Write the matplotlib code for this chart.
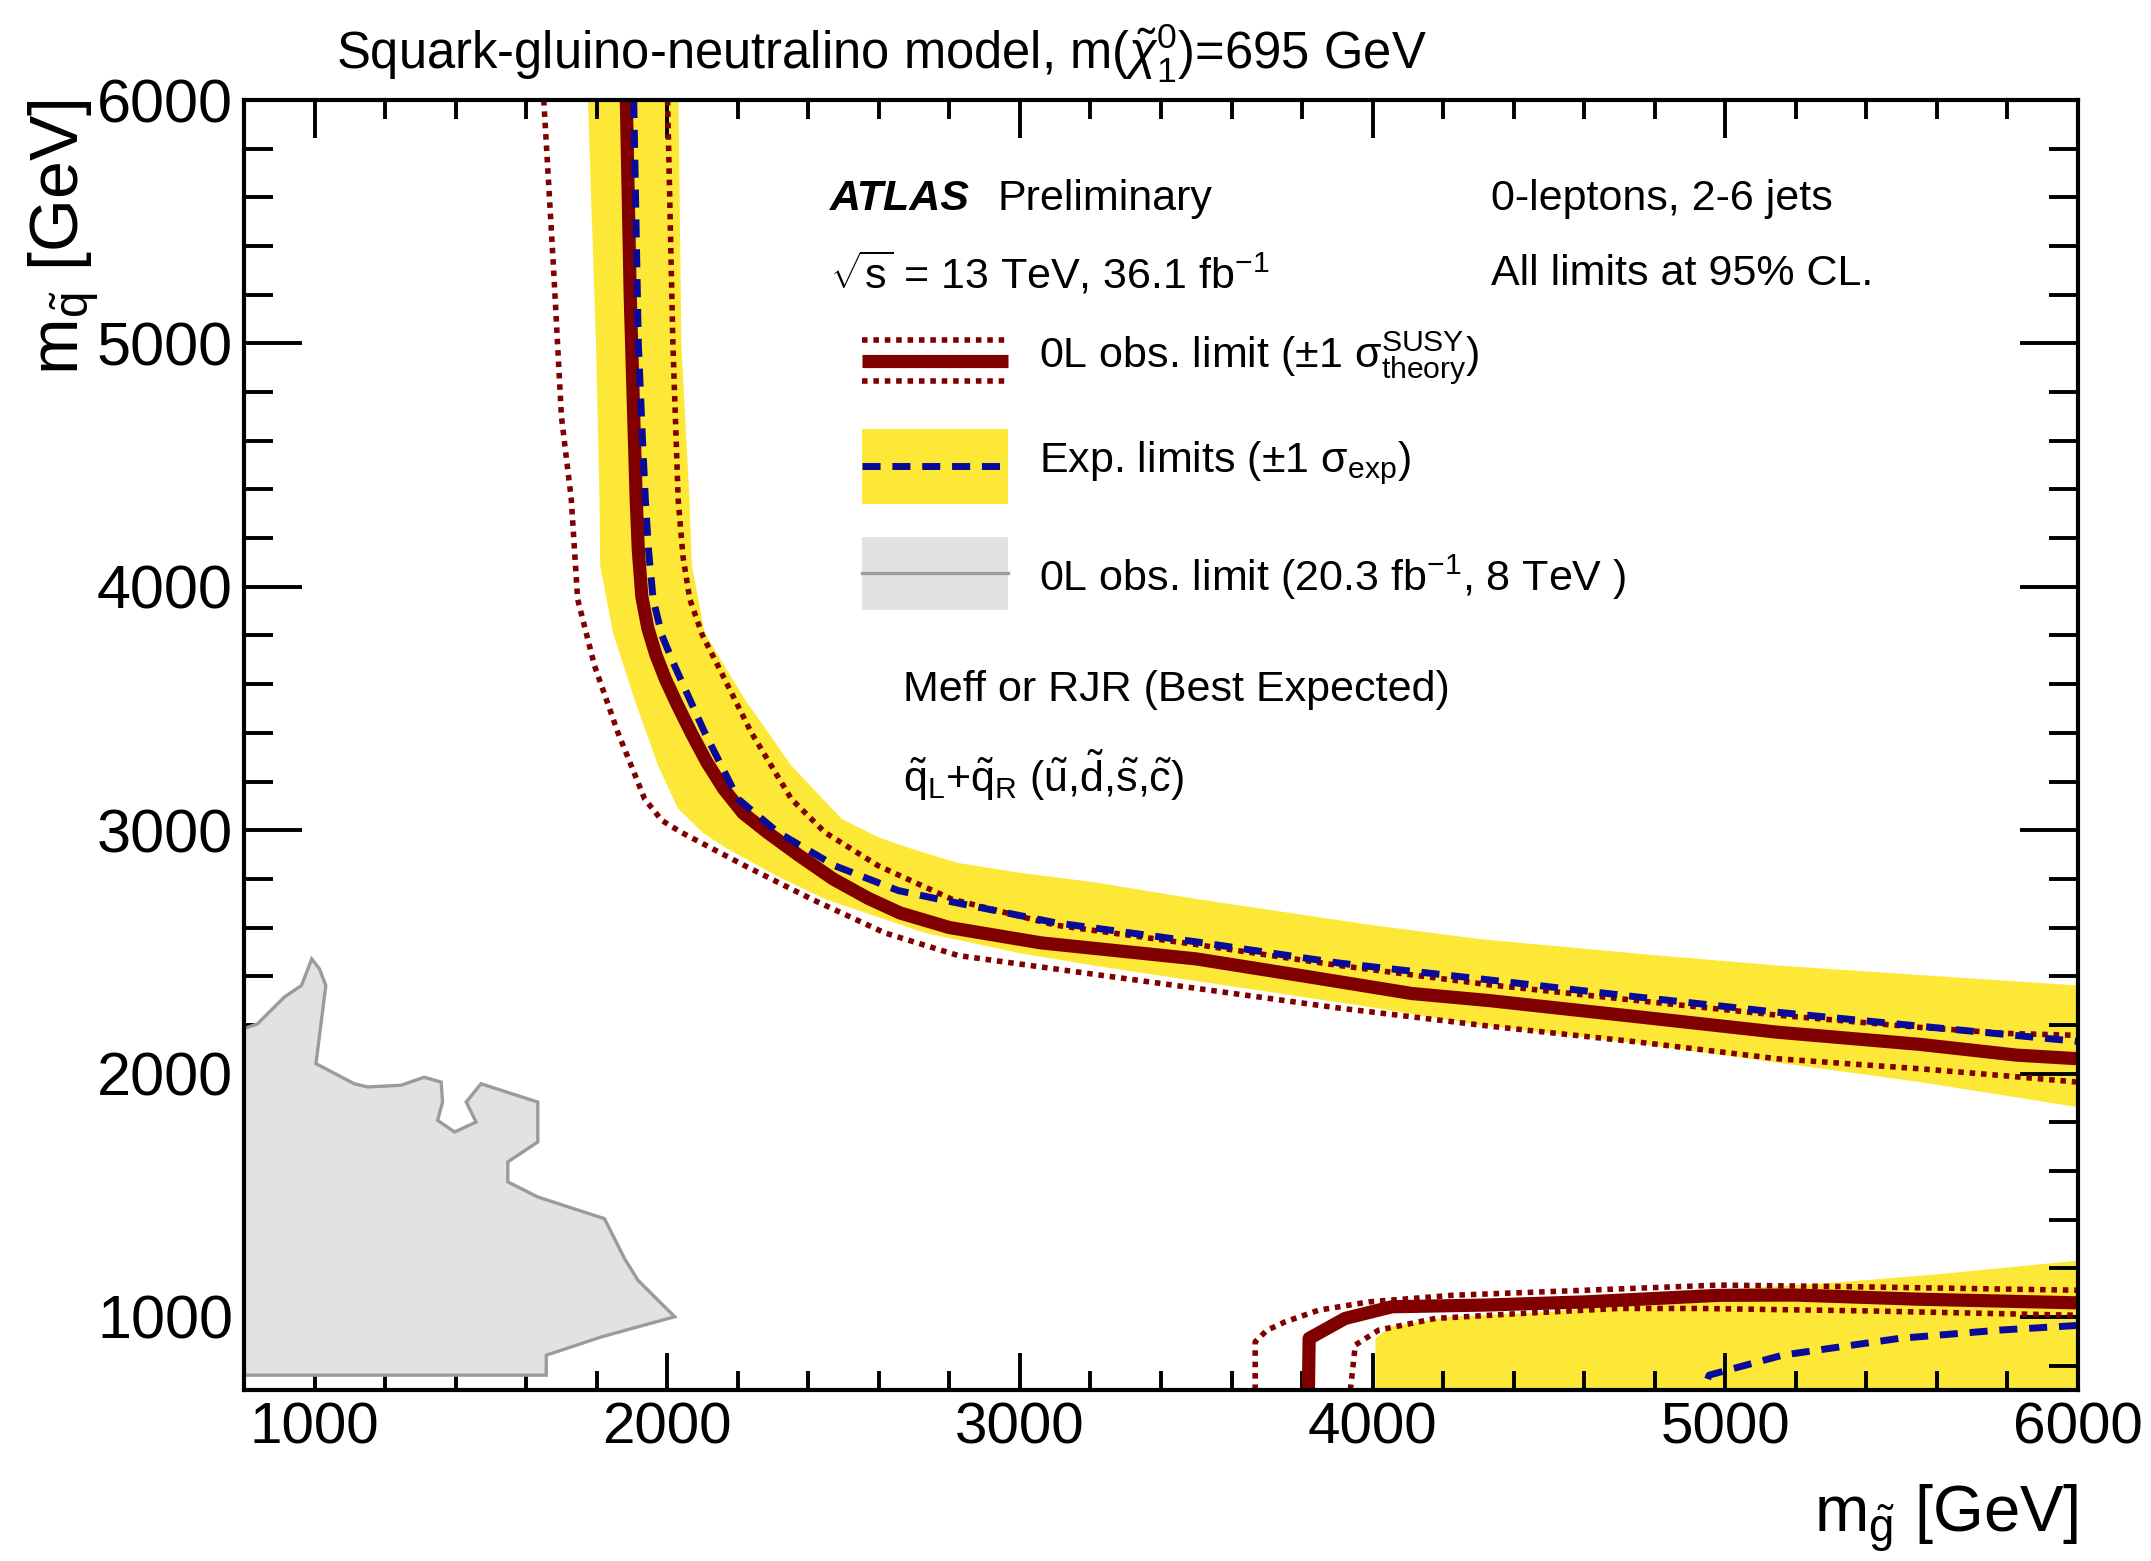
import matplotlib
matplotlib.use('Agg')
import matplotlib.pyplot as plt
from matplotlib.patches import Polygon, Rectangle
from matplotlib.lines import Line2D
from matplotlib.ticker import MultipleLocator

plt.rcParams['font.family'] = ['Liberation Sans', 'DejaVu Sans']
plt.rcParams['mathtext.fontset'] = 'custom'
plt.rcParams['mathtext.rm'] = 'Liberation Sans'
plt.rcParams['mathtext.it'] = 'Liberation Sans:italic'
plt.rcParams['mathtext.bf'] = 'Liberation Sans:bold'
plt.rcParams['mathtext.sf'] = 'Liberation Sans'

# ---------------- data (m_gluino, m_squark) in GeV ----------------
obs_x = [1884, 1895, 1905, 1912, 1918, 1928, 1945, 1968, 1995, 2027, 2068, 2112, 2160, 2215, 2285,
         2370, 2470, 2570, 2660, 2800, 3060, 3501, 3800, 4111, 4330, 4773, 5148, 5552, 5825, 6000]
obs_y = [6000, 5200, 4700, 4359, 4150, 3960, 3830, 3720, 3620, 3520, 3400, 3280, 3170, 3070, 2990,
         2900, 2800, 2720, 2660, 2600, 2537, 2471, 2402, 2329, 2300, 2230, 2170, 2120, 2076, 2061]

obs_up_x = [2001, 2016, 2031, 2045, 2064, 2100, 2144, 2238, 2352, 2447, 2598, 2806, 3100, 3501,
            3900, 4330, 4750, 5148, 5550, 5800, 6000]
obs_up_y = [6000, 5000, 4359, 4120, 3949, 3800, 3675, 3402, 3128, 2991, 2854, 2717, 2610, 2530,
            2445, 2365, 2300, 2240, 2190, 2165, 2157]

obs_dn_x = [1650, 1678, 1700, 1728, 1746, 1794, 1860, 1936, 1985, 2040, 2120, 2220, 2409, 2617,
            2825, 3100, 3501, 3900, 4330, 4750, 5148, 5550, 5800, 6000]
obs_dn_y = [6000, 5300, 4700, 4359, 3949, 3675, 3402, 3128, 3040, 2991, 2930, 2854, 2717, 2578,
            2485, 2430, 2350, 2270, 2195, 2130, 2061, 2020, 1990, 1965]

exp_x = [1905, 1918, 1930, 1938, 1947, 1960, 1985, 2021, 2106, 2201, 2314, 2475, 2655, 2768, 3100,
         3501, 3900, 4330, 4750, 5148, 5550, 5800, 6000]
exp_y = [6000, 5000, 4600, 4359, 4150, 3949, 3800, 3675, 3402, 3128, 2991, 2854, 2752, 2717, 2620,
         2541, 2455, 2385, 2315, 2252, 2195, 2160, 2132]

band_out_x = [2032, 2040, 2063, 2070, 2106, 2160, 2220, 2352, 2495, 2600, 2694, 2825, 3000, 3216,
              3501, 3994, 4301, 4773, 5148, 5552, 6000]
band_out_y = [6000, 5000, 4359, 4086, 3812, 3680, 3538, 3265, 3046, 2970, 2923, 2865, 2825, 2785,
              2717, 2611, 2553, 2490, 2444, 2405, 2362]
band_in_x = [1775, 1798, 1808, 1810, 1846, 1907, 1974, 2030, 2100, 2163, 2300, 2447, 2731, 3000,
             3216, 3994, 4301, 4773, 5148, 5552, 6000]
band_in_y = [6000, 5000, 4359, 4086, 3812, 3538, 3265, 3090, 2990, 2930, 2820, 2717, 2578, 2495,
             2442, 2273, 2200, 2120, 2045, 1965, 1862]

# lower-right island
obs2_x = [3818, 3820, 3922, 4055, 4320, 4604, 4982, 5200, 5550, 6000]
obs2_y = [700, 912, 994, 1042, 1049, 1062, 1089, 1090, 1073, 1058]
obs2_up_x = [3667, 3667, 3700, 3752, 3847, 3989, 4225, 4604, 4982, 5332, 6000]
obs2_up_y = [700, 898, 945, 980, 1028, 1062, 1089, 1110, 1131, 1125, 1110]
obs2_dn_x = [3937, 3951, 4017, 4178, 4415, 4698, 4927, 5400, 6000]
obs2_dn_y = [700, 885, 946, 994, 1014, 1035, 1035, 1025, 1007]
exp2_x = [4950, 4954, 5162, 5493, 5777, 5985, 6000]
exp2_y = [745, 761, 843, 912, 946, 964, 966]
band2_x = [4008, 4008, 4050, 4225, 4509, 4750, 5050, 5300, 5600, 5918, 6000, 6000]
band2_y = [700, 912, 960, 1002, 1021, 1060, 1117, 1140, 1175, 1220, 1231, 700]

# 8 TeV observed limit region
run1_x = [800, 1657, 1657, 1813, 2021, 1917, 1879, 1822, 1633, 1548, 1548, 1633, 1633, 1472, 1430,
          1458, 1397, 1349, 1363, 1359, 1311, 1245, 1151, 1113, 1004, 1032, 1014, 992, 963, 914,
          838, 800]
run1_y = [761, 761, 843, 918, 1001, 1151, 1240, 1404, 1493, 1555, 1637, 1719, 1883, 1958, 1883,
          1801, 1760, 1808, 1883, 1965, 1985, 1952, 1945, 1958, 2041, 2362, 2430, 2471, 2362, 2314,
          2204, 2185]

x_ticks = [1000, 2000, 3000, 4000, 5000, 6000]
y_ticks = [1000, 2000, 3000, 4000, 5000, 6000]

# ---------------- style ----------------
YEL = '#fde838'
RED = '#800000'
BLUE = '#0a0a9a'
GFILL = '#e2e2e2'
GLINE = '#9b9b9b'

fig = plt.figure(figsize=(21.51, 15.61), dpi=100)
fig.patch.set_facecolor('white')
ax = fig.add_axes([244 / 2151, 1 - 1390 / 1561, 1834 / 2151, 1290 / 1561])

# yellow bands
ax.fill(band_out_x + band_in_x[::-1], band_out_y + band_in_y[::-1], color=YEL, lw=0, zorder=1)
ax.fill(band2_x, band2_y, color=YEL, lw=0, zorder=1)
# 8 TeV region
ax.add_patch(Polygon(list(zip(run1_x, run1_y)), closed=True, facecolor=GFILL,
                     edgecolor=GLINE, lw=2.4, zorder=2))

dot = dict(color=RED, lw=4.0, linestyle=(0, (1.0, 1.05)), dash_capstyle='butt', zorder=4)
dash = dict(color=BLUE, lw=5.0, linestyle=(0, (2.6, 1.7)), dash_capstyle='butt', zorder=5)
thick = dict(color=RED, lw=9.5, solid_capstyle='butt', solid_joinstyle='round', zorder=3)

ax.plot(obs_x, obs_y, **thick)
ax.plot(obs2_x, obs2_y, **thick)
ax.plot(obs_up_x, obs_up_y, **dot)
ax.plot(obs_dn_x, obs_dn_y, **dot)
ax.plot(obs2_up_x, obs2_up_y, **dot)
ax.plot(obs2_dn_x, obs2_dn_y, **dot)
ax.plot(exp_x, exp_y, **dash)
ax.plot(exp2_x, exp2_y, **dash)

ax.set_xlim(800, 6000)
ax.set_ylim(700, 6000)
ax.set_xticks(x_ticks)
ax.set_yticks(y_ticks)
ax.set_xticklabels([str(v) for v in x_ticks])
ax.set_yticklabels([str(v) for v in y_ticks])
ax.xaxis.set_minor_locator(MultipleLocator(200))
ax.yaxis.set_minor_locator(MultipleLocator(200))
ax.tick_params(axis='both', which='both', direction='in', top=True, right=True, width=2.8,
               colors='black')
ax.tick_params(axis='x', which='major', length=27, pad=8, labelsize=42)
ax.tick_params(axis='x', which='minor', length=14)
ax.tick_params(axis='y', which='major', length=42, pad=8, labelsize=44)
ax.tick_params(axis='y', which='minor', length=21)
for s in ax.spines.values():
    s.set_linewidth(3)
    s.set_zorder(10)

# axis titles
fig.text(2078 / 2151, 0.018, r'$\mathrm{m}_{\tilde{\mathrm{g}}}$ [GeV]', ha='right', va='baseline',
         fontsize=47)
fig.text(64 / 2151, 1 - 100 / 1561, r'$\mathrm{m}_{\tilde{\mathrm{q}}}$ [GeV]', ha='center', va='top',
         rotation=90, fontsize=49)
fig.text(336 / 2151, 0.956, r'Squark-gluino-neutralino model, m($\tilde{\chi}^{0}_{1}$)=695 GeV',
         ha='left', va='baseline', fontsize=36.5)

# labels inside plot
T = ax.transAxes
fs = 31
ax.text(0.3195, 0.9233, 'ATLAS', transform=T, fontsize=fs, fontweight='bold', style='italic',
        va='center', ha='left')
ax.text(0.4108, 0.9233, 'Preliminary', transform=T, fontsize=fs, va='center', ha='left')
ax.text(0.3195, 0.8651, r'$\sqrt{\mathrm{s}}$ = 13 TeV, 36.1 fb$^{\mathrm{-1}}$', transform=T,
        fontsize=fs, va='center', ha='left')
ax.text(0.680, 0.9233, '0-leptons, 2-6 jets', transform=T, fontsize=fs, va='center', ha='left')
ax.text(0.680, 0.8651, 'All limits at 95% CL.', transform=T, fontsize=fs, va='center', ha='left')

x0, x1 = 0.3367, 0.4168
ax.add_line(Line2D([x0, x1], [0.8138, 0.8138], transform=T, **dot))
ax.add_line(Line2D([x0, x1], [0.7819, 0.7819], transform=T, **dot))
ax.add_line(Line2D([x0, x1], [0.7980, 0.7980], transform=T, **thick))
ax.text(0.4333, 0.7997, r'0L obs. limit ($\pm$1 $\mathrm{\sigma}^{\mathrm{SUSY}}_{\mathrm{theory}}$)',
        transform=T, fontsize=fs, va='center', ha='left')

ax.add_patch(Rectangle((x0, 0.6872), x1 - x0, 0.0575, transform=T, facecolor=YEL, lw=0, zorder=3))
ax.add_line(Line2D([x0, x1], [0.7159, 0.7159], transform=T, **dash))
ax.text(0.4333, 0.7182, r'Exp. limits ($\pm$1 $\mathrm{\sigma}_{\mathrm{exp}}$)', transform=T,
        fontsize=fs, va='center', ha='left')

ax.add_patch(Rectangle((x0, 0.6043), x1 - x0, 0.0573, transform=T, facecolor=GFILL, lw=0, zorder=3))
ax.add_line(Line2D([x0, x1], [0.633, 0.633], transform=T, color=GLINE, lw=2.4, zorder=4))
ax.text(0.4333, 0.6298, r'0L obs. limit (20.3 fb$^{\mathrm{-1}}$, 8 TeV )', transform=T,
        fontsize=fs, va='center', ha='left')

ax.text(0.3592, 0.5426, 'Meff or RJR (Best Expected)', transform=T, fontsize=fs, va='center',
        ha='left')
ax.text(0.3592, 0.4767,
        r'$\tilde{\mathrm{q}}_{\mathrm{L}}$+$\tilde{\mathrm{q}}_{\mathrm{R}}$ '
        r'($\tilde{\mathrm{u}}$,$\tilde{\mathrm{d}}$,$\tilde{\mathrm{s}}$,$\tilde{\mathrm{c}}$)',
        transform=T, fontsize=fs, va='center', ha='left')

fig.savefig('out.png', dpi=100, facecolor='white')
